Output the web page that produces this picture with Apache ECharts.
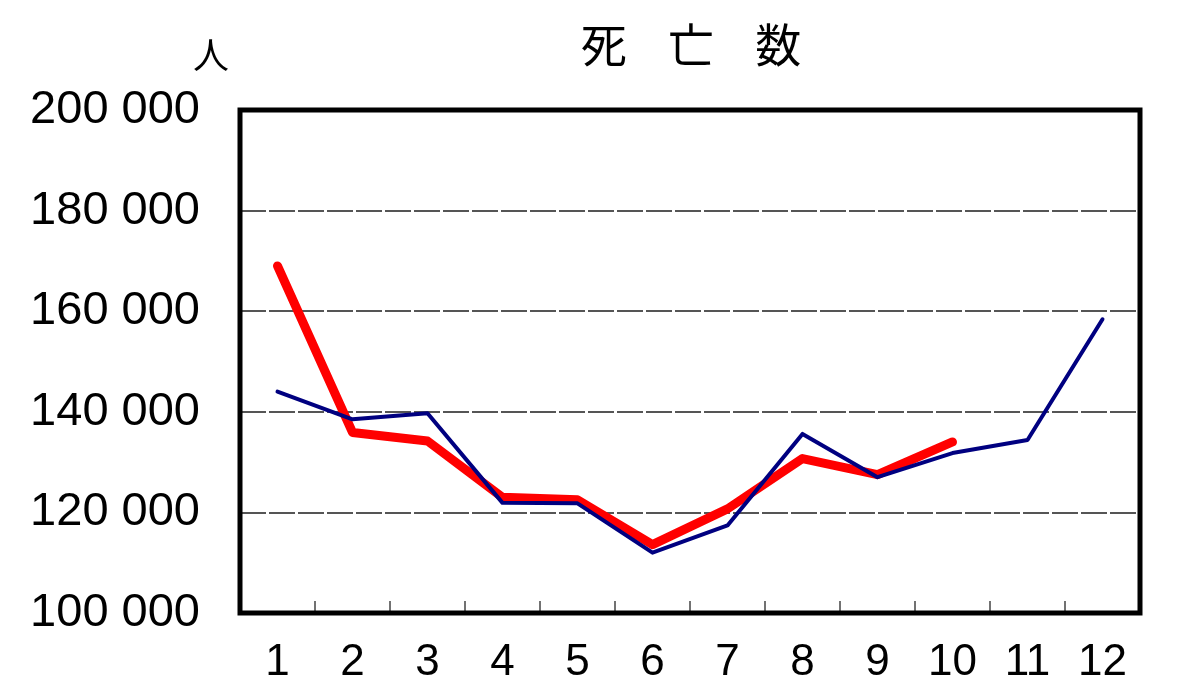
<!DOCTYPE html>
<html>
<head>
<meta charset="utf-8">
<script src="https://cdn.jsdelivr.net/npm/echarts@6/dist/echarts.min.js"></script>
<style>
html,body{margin:0;padding:0;background:#fff;}
#chart{width:1200px;height:700px;}
</style>
</head>
<body>
<div id="chart"></div>
<script>
var months = ['1','2','3','4','5','6','7','8','9','10','11','12'];
var seriesRed = [169000, 135900, 134200, 123000, 122500, 113600, 120700, 130700, 127500, 134000];
var seriesBlue = [144000, 138500, 139700, 121900, 121800, 112000, 117400, 135600, 127000, 131800, 134400, 158400];
var yMin = 100000, yMax = 200000, yStep = 20000;
var titleText = '死    亡    数';
var unitText = '人';

var chart = echarts.init(document.getElementById('chart'));
var numFont = "'Liberation Sans', Arial, sans-serif";
var cjkFont = "'Noto Sans CJK JP', sans-serif";
chart.setOption({
  animation: false,
  backgroundColor: '#fff',
  title: {
    text: titleText,
    left: 686, top: 17, textAlign: 'center',
    textStyle: {fontFamily: cjkFont, fontSize: 46, fontWeight: 'normal', color: '#000'}
  },
  graphic: [{
    type: 'text', left: 193, top: 37,
    style: {text: unitText, font: "36px 'Noto Sans CJK JP', sans-serif", fill: '#000'}
  }],
  grid: {left: 240, right: 60, top: 110, bottom: 87, show: true, borderColor: '#000', borderWidth: 5, backgroundColor: 'transparent', z: 10},
  xAxis: {
    type: 'category', data: months, boundaryGap: true,
    axisLine: {show: false},
    axisTick: {show: true, inside: true, length: 12, lineStyle: {color: '#444', width: 1.5}},
    axisLabel: {margin: 28, fontSize: 44, fontFamily: numFont, color: '#000'},
    splitLine: {show: false}
  },
  yAxis: {
    type: 'value', min: yMin, max: yMax, interval: yStep,
    axisLine: {show: false}, axisTick: {show: false},
    axisLabel: {margin: 40, fontSize: 47, fontFamily: numFont, color: '#000',
      formatter: function (v) { var s = String(v); return s.length > 3 ? s.slice(0, s.length - 3) + ' ' + s.slice(-3) : s; }},
    splitLine: {show: true, showMinLine: false, showMaxLine: false, lineStyle: {color: '#555', width: 2, type: [26, 3]}}
  },
  series: [
    {type: 'line', data: seriesRed, symbol: 'none', lineStyle: {color: '#ff0000', width: 9, cap: 'round', join: 'round'}, z: 3},
    {type: 'line', data: seriesBlue, symbol: 'none', lineStyle: {color: '#000080', width: 4, cap: 'round', join: 'round'}, z: 4}
  ]
});
</script>
</body>
</html>
